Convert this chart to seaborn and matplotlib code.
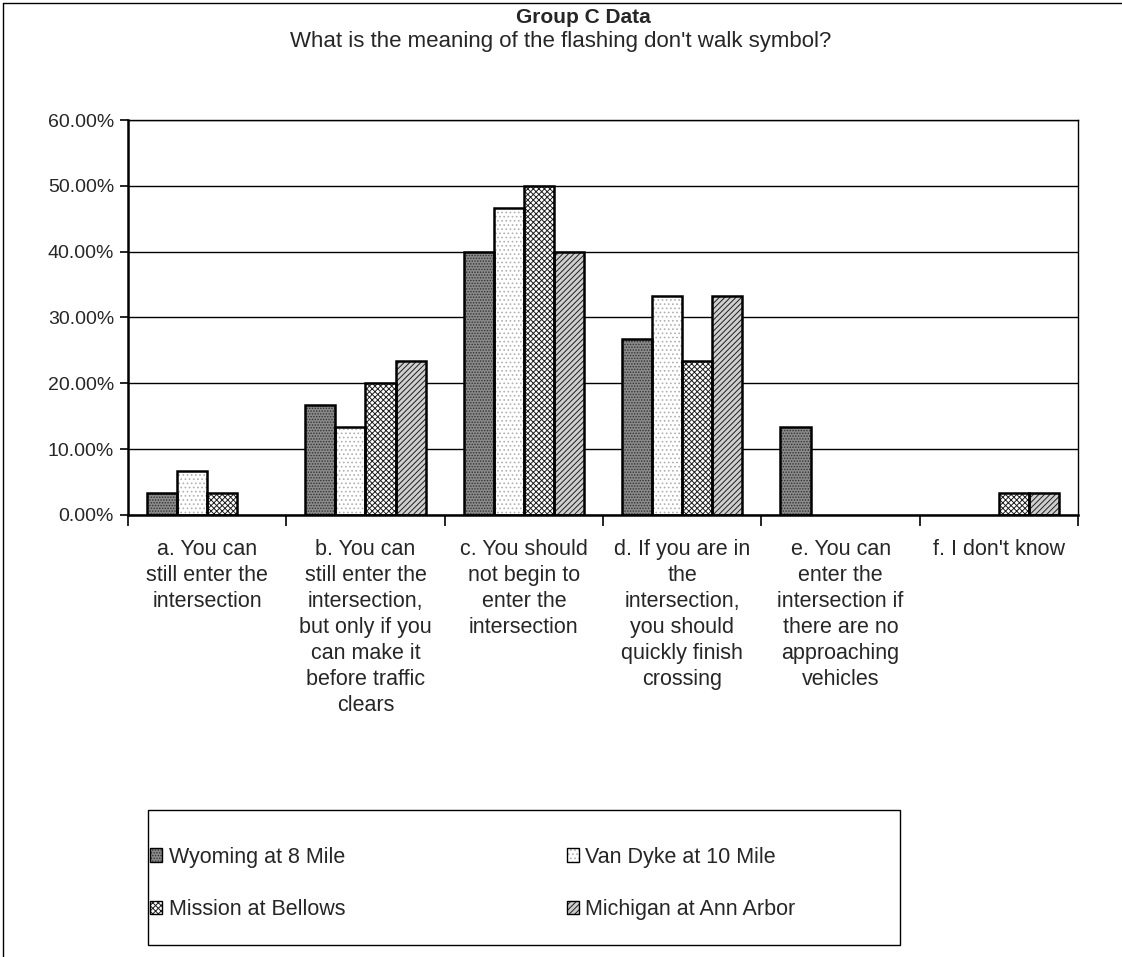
import matplotlib
matplotlib.use("Agg")
import matplotlib.pyplot as plt
import seaborn as sns
import pandas as pd
import numpy as np
from matplotlib.patches import Rectangle, Patch
from matplotlib.lines import Line2D
from matplotlib.ticker import FuncFormatter, FixedLocator

categories = [
    "a. You can\nstill enter the\nintersection",
    "b. You can\nstill enter the\nintersection,\nbut only if you\ncan make it\nbefore traffic\nclears",
    "c. You should\nnot begin to\nenter the\nintersection",
    "d. If you are in\nthe\nintersection,\nyou should\nquickly finish\ncrossing",
    "e. You can\nenter the\nintersection if\nthere are no\napproaching\nvehicles",
    "f. I don't know",
]
locations = ["Wyoming at 8 Mile", "Van Dyke at 10 Mile",
             "Mission at Bellows", "Michigan at Ann Arbor"]
wyoming = [3.33, 16.67, 40.00, 26.67, 13.33, 0.00]
van_dyke = [6.67, 13.33, 46.67, 33.33, 0.00, 0.00]
mission = [3.33, 20.00, 50.00, 23.33, 0.00, 3.33]
michigan = [0.00, 23.33, 40.00, 33.33, 0.00, 3.33]

series = [wyoming, van_dyke, mission, michigan]
df = pd.DataFrame({
    "category": np.tile(categories, len(locations)),
    "location": np.repeat(locations, len(categories)),
    "value": np.concatenate(series),
})

sns.set_style("white")
plt.rcParams["font.family"] = ["Liberation Sans", "DejaVu Sans"]
plt.rcParams["hatch.linewidth"] = 0.7

fig = plt.figure(figsize=(11.22, 9.57), dpi=100)
ax = fig.add_axes([0.114, 0.4619, 0.847, 0.4127])

sns.barplot(data=df, x="category", y="value", hue="location",
            order=categories, hue_order=locations, ax=ax,
            width=0.76, gap=0, legend=False, errorbar=None,
            saturation=1)

# fill, texture and texture colour for each location
styles = [
    dict(facecolor="#8a8a8a", hatch="......", hatchcolor="#333333"),
    dict(facecolor="#ffffff", hatch="....", hatchcolor="#b0b0b0"),
    dict(facecolor="#ffffff", hatch="xxxxxx", hatchcolor="#1e1e1e"),
    dict(facecolor="#cfcfcf", hatch="//////", hatchcolor="#1e1e1e"),
]
for cont, st in zip(ax.containers, styles):
    for bar in cont:
        bar.set_facecolor(st["facecolor"])
        bar.set_edgecolor(st["hatchcolor"])
        bar.set_linewidth(0)
        bar.set_hatch(st["hatch"])
        if bar.get_height() > 0:
            ax.add_patch(Rectangle(bar.get_xy(), bar.get_width(),
                                   bar.get_height(), fill=False,
                                   edgecolor="black", linewidth=1.8,
                                   zorder=bar.get_zorder() + 0.1))

ax.set_ylim(0, 60)
ax.set_xlim(-0.5, len(categories) - 0.5)
ax.yaxis.set_major_locator(FixedLocator(np.arange(0, 61, 10)))
ax.yaxis.set_major_formatter(FuncFormatter(lambda v, p: f"{v:.2f}%"))
ax.grid(axis="y", color="black", linewidth=1.0)
ax.set_axisbelow(True)

# category boundaries carry the tick marks, centres carry the labels
ax.set_xticks(np.arange(-0.5, len(categories), 1.0))
ax.set_xticklabels([])
ax.set_xticks(np.arange(len(categories)), minor=True)
ax.set_xticklabels(categories, minor=True, fontsize=15.5, linespacing=1.32,
                   va="top")
ax.tick_params(axis="x", which="major", direction="out", length=8,
               width=1.2, color="black", bottom=True)
ax.tick_params(axis="x", which="minor", length=0, pad=17)
ax.tick_params(axis="y", direction="out", length=6, width=1.2,
               color="black", left=True, labelsize=14, pad=4)
ax.set_xlabel("")
ax.set_ylabel("")

for side in ["top", "right", "bottom", "left"]:
    ax.spines[side].set_visible(True)
    ax.spines[side].set_color("black")
    ax.spines[side].set_linewidth(1.0)
ax.spines["left"].set_linewidth(1.8)
ax.spines["bottom"].set_linewidth(1.8)

fig.text(0.52, 0.982, "Group C Data", ha="center", va="center",
         fontsize=15, fontweight="bold")
fig.text(0.5, 0.957, "What is the meaning of the flashing don't walk symbol?",
         ha="center", va="center", fontsize=16)

# legend filled row by row: Wyoming, Van Dyke / Mission, Michigan
order = [0, 2, 1, 3]
handles = [(Patch(facecolor=styles[i]["facecolor"],
                  edgecolor=styles[i]["hatchcolor"],
                  hatch=styles[i]["hatch"], linewidth=0),
            Patch(fill=False, edgecolor="black", linewidth=1.0))
           for i in order]
labels = [locations[i] for i in order]
leg = fig.legend(handles, labels, ncol=2, loc="center left",
                 bbox_to_anchor=(0.134, 0.0768), fontsize=15.5,
                 frameon=False, handlelength=0.55, handleheight=0.6,
                 handletextpad=0.3, labelspacing=1.45, columnspacing=10.3,
                 borderaxespad=0, borderpad=0)
fig.patches.append(Rectangle((148 / 1122, 1 - 945 / 957), 752 / 1122,
                             135 / 957, transform=fig.transFigure,
                             fill=False, edgecolor="black", linewidth=1.0))

# outer chart frame (top and left edges)
fig.add_artist(Line2D([0.003, 0.003], [0.0, 0.997], transform=fig.transFigure,
                      color="black", linewidth=1.0))
fig.add_artist(Line2D([0.003, 1.0], [0.997, 0.997], transform=fig.transFigure,
                      color="black", linewidth=1.0))

fig.savefig("out.png", dpi=100, facecolor="white")
